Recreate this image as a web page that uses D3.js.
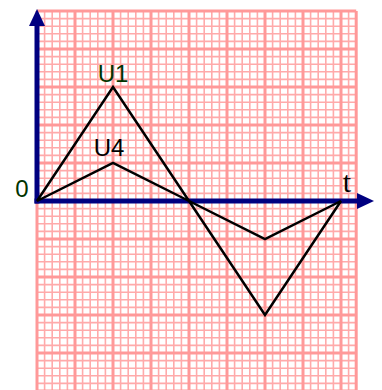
<!DOCTYPE html>
<html>
<head>
<meta charset="utf-8">
<script src="https://cdn.jsdelivr.net/npm/d3@7"></script>
<style>
  body { margin: 0; background: #fff; }
  svg { display: block; }
</style>
</head>
<body>
<div id="chart"></div>
<script>
// time points (major grid units) and the two voltages
var tValues = [0, 2, 4, 6, 8];
var u1Values = [0, 3, 0, -3, 0];
var u4Values = [0, 1, 0, -1, 0];
var seriesLabels = ["U1", "U4"];

var width = 382, height = 390;
var origin = { x: 37, y: 201 };
var unit = 38; // px per major square

var svg = d3.select("#chart")
  .append("svg")
  .attr("width", width)
  .attr("height", height);

var xScale = d3.scaleLinear().domain([0, 8.4]).range([origin.x, origin.x + 8.4 * unit]);
var yScale = d3.scaleLinear().domain([-5, 5]).range([origin.y + 5 * unit, origin.y - 5 * unit]);

// graph paper: minor lines every 1/5 unit, major every unit
var minorX = d3.range(0, 43).map(function (i) { return i / 5; });
var minorY = d3.range(-25, 26).map(function (i) { return i / 5; });

var grid = svg.append("g");
grid.selectAll(".minor-v")
  .data(minorX.filter(function (d, i) { return i % 5 !== 0; }))
  .enter().append("line")
  .attr("x1", function (d) { return xScale(d); })
  .attr("x2", function (d) { return xScale(d); })
  .attr("y1", yScale(5)).attr("y2", yScale(-5))
  .attr("stroke", "#ffaaaa").attr("stroke-width", 1.6);
grid.selectAll(".minor-h")
  .data(minorY.filter(function (d, i) { return i % 5 !== 0; }))
  .enter().append("line")
  .attr("y1", function (d) { return yScale(d); })
  .attr("y2", function (d) { return yScale(d); })
  .attr("x1", xScale(0)).attr("x2", xScale(8.4))
  .attr("stroke", "#ffaaaa").attr("stroke-width", 1.6);
grid.selectAll(".major-v")
  .data(minorX.filter(function (d, i) { return i % 5 === 0; }).concat([8.4]))
  .enter().append("line")
  .attr("x1", function (d) { return xScale(d); })
  .attr("x2", function (d) { return xScale(d); })
  .attr("y1", yScale(5)).attr("y2", yScale(-5))
  .attr("stroke", "#ff9999").attr("stroke-width", 3);
grid.selectAll(".major-h")
  .data(minorY.filter(function (d, i) { return i % 5 === 0; }))
  .enter().append("line")
  .attr("y1", function (d) { return yScale(d); })
  .attr("y2", function (d) { return yScale(d); })
  .attr("x1", xScale(0)).attr("x2", xScale(8.4))
  .attr("stroke", "#ff9999").attr("stroke-width", 3);

// axes
var axisColor = "#000080";
svg.append("line")
  .attr("x1", xScale(0)).attr("x2", xScale(0))
  .attr("y1", yScale(0) + 2.5).attr("y2", 20)
  .attr("stroke", axisColor).attr("stroke-width", 5);
svg.append("path")
  .attr("d", "M" + (xScale(0) - 8) + ",26 L" + xScale(0) + ",9 L" + (xScale(0) + 8) + ",26 Z")
  .attr("fill", axisColor);
svg.append("line")
  .attr("x1", xScale(0) - 2.5).attr("x2", 362)
  .attr("y1", yScale(0)).attr("y2", yScale(0))
  .attr("stroke", axisColor).attr("stroke-width", 5);
svg.append("path")
  .attr("d", "M357," + (yScale(0) - 8) + " L374," + yScale(0) + " L357," + (yScale(0) + 8) + " Z")
  .attr("fill", axisColor);

// signal lines
var line = d3.line()
  .x(function (d) { return xScale(d[0]); })
  .y(function (d) { return yScale(d[1]); });

[u1Values, u4Values].forEach(function (vals) {
  svg.append("path")
    .datum(tValues.map(function (t, i) { return [t, vals[i]]; }))
    .attr("d", line)
    .attr("fill", "none")
    .attr("stroke", "#000")
    .attr("stroke-width", 2.5)
    .attr("stroke-linejoin", "miter");
});

// labels
svg.append("text")
  .attr("x", xScale(2)).attr("y", 82)
  .attr("text-anchor", "middle")
  .style("font-family", "Arial, 'Liberation Sans', sans-serif")
  .style("font-size", "24px")
  .attr("fill", "#003300")
  .text(seriesLabels[0]);
svg.append("text")
  .attr("x", xScale(2) - 4).attr("y", 156)
  .attr("text-anchor", "middle")
  .style("font-family", "Arial, 'Liberation Sans', sans-serif")
  .style("font-size", "24px")
  .attr("fill", "#000")
  .text(seriesLabels[1]);
svg.append("text")
  .attr("x", 22).attr("y", 197)
  .attr("text-anchor", "middle")
  .style("font-family", "Arial, 'Liberation Sans', sans-serif")
  .style("font-size", "24px")
  .attr("fill", "#003300")
  .text("0");
svg.append("text")
  .attr("x", 347).attr("y", 192)
  .attr("text-anchor", "middle")
  .style("font-family", "'Times New Roman', 'Liberation Serif', serif")
  .style("font-size", "30px")
  .attr("fill", "#000")
  .text("t");
</script>
</body>
</html>
